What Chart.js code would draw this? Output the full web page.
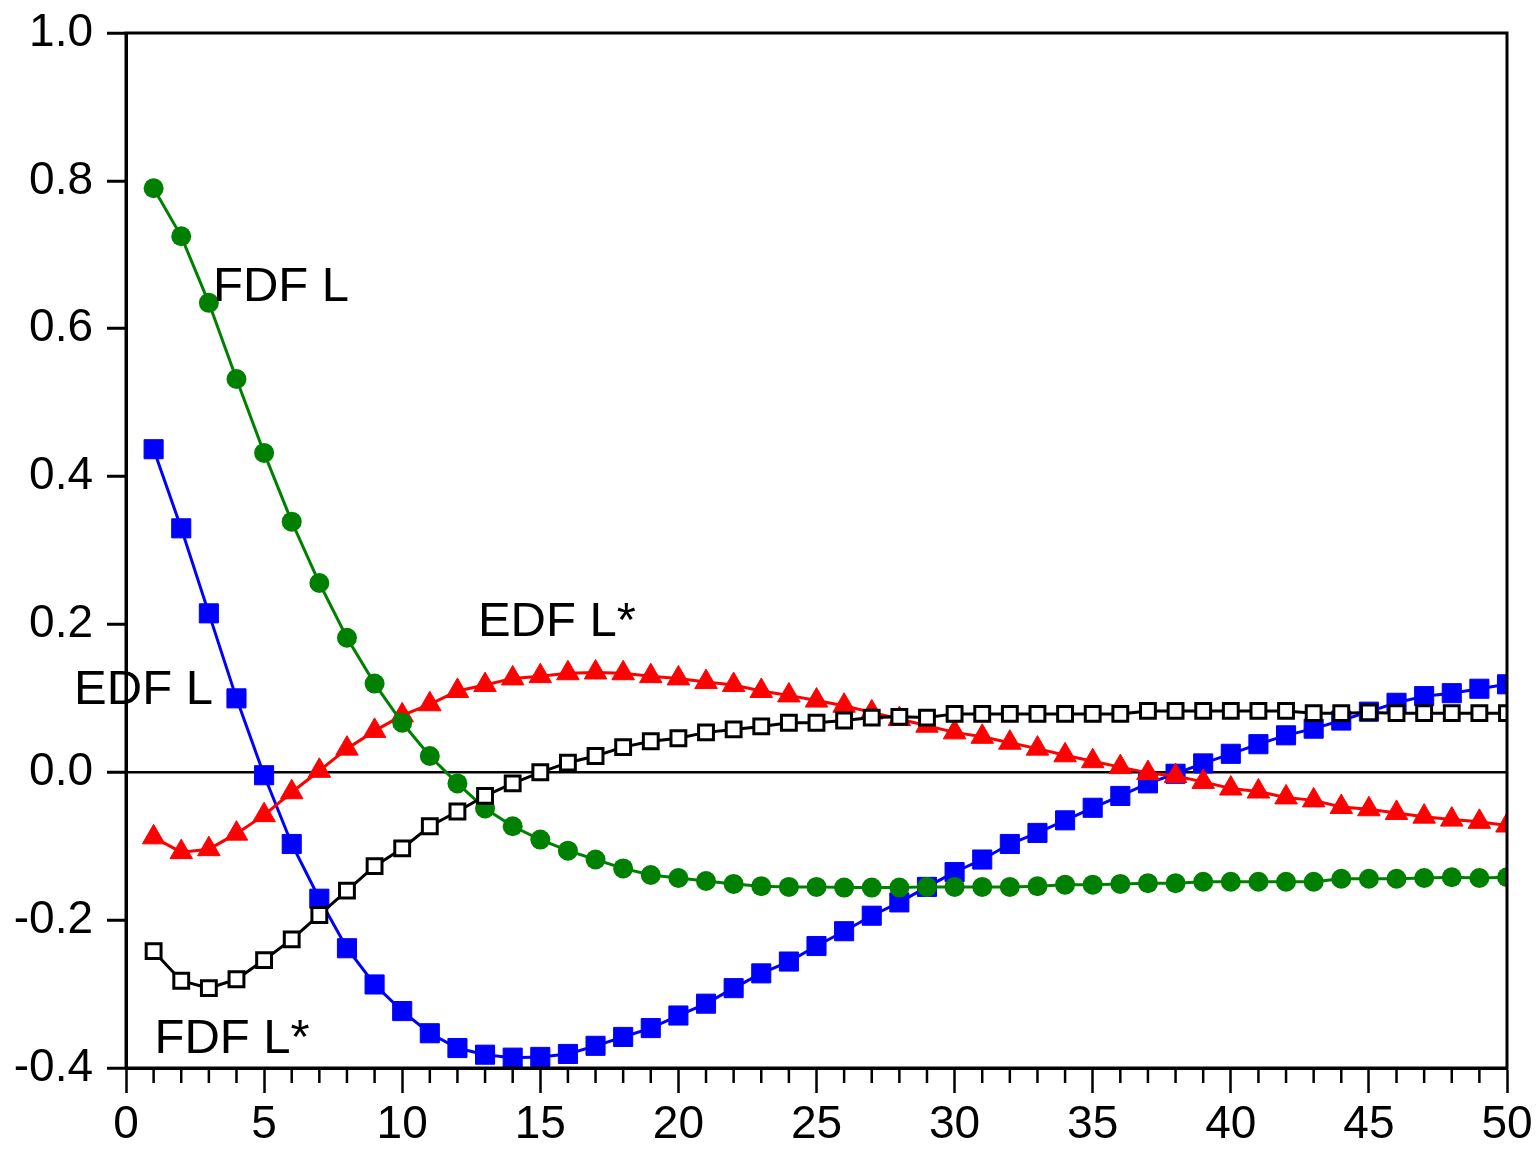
<!DOCTYPE html>
<html>
<head>
<meta charset="utf-8">
<script src="https://cdn.jsdelivr.net/npm/chart.js"></script>
<style>
  html, body { margin: 0; padding: 0; background: #fff; }
  canvas { display: block; }
</style>
</head>
<body>
<canvas id="chart" width="1538" height="1149"></canvas>
<script>
// lag index on the x axis
const lags = [1, 2, 3, 4, 5, 6, 7, 8, 9, 10, 11, 12, 13, 14, 15, 16, 17, 18, 19, 20,
              21, 22, 23, 24, 25, 26, 27, 28, 29, 30, 31, 32, 33, 34, 35, 36, 37, 38, 39, 40,
              41, 42, 43, 44, 45, 46, 47, 48, 49, 50];

// series values
const fdfL = [0.790, 0.725, 0.635, 0.532, 0.432, 0.339, 0.256, 0.182, 0.120, 0.067,
              0.022, -0.015, -0.049, -0.073, -0.091, -0.106, -0.118, -0.130, -0.139, -0.143,
              -0.147, -0.151, -0.154, -0.155, -0.155, -0.156, -0.156, -0.156, -0.155, -0.155,
              -0.155, -0.155, -0.154, -0.152, -0.152, -0.151, -0.150, -0.150, -0.148, -0.148,
              -0.148, -0.148, -0.148, -0.144, -0.144, -0.144, -0.143, -0.142, -0.143, -0.142];
const edfL = [0.437, 0.330, 0.215, 0.100, -0.004, -0.097, -0.171, -0.238, -0.287, -0.323,
              -0.353, -0.373, -0.382, -0.386, -0.385, -0.381, -0.370, -0.358, -0.346, -0.329,
              -0.313, -0.292, -0.272, -0.256, -0.235, -0.215, -0.194, -0.176, -0.155, -0.135,
              -0.118, -0.097, -0.082, -0.065, -0.048, -0.032, -0.015, -0.002, 0.012, 0.025,
              0.038, 0.050, 0.059, 0.070, 0.082, 0.094, 0.103, 0.107, 0.113, 0.119];
const edfLStar = [-0.088, -0.108, -0.104, -0.083, -0.058, -0.027, 0.002, 0.032, 0.056, 0.077,
                  0.092, 0.110, 0.118, 0.127, 0.130, 0.134, 0.135, 0.134, 0.130, 0.127,
                  0.122, 0.118, 0.110, 0.104, 0.097, 0.090, 0.081, 0.072, 0.063, 0.054,
                  0.048, 0.040, 0.032, 0.023, 0.015, 0.007, -0.001, -0.005, -0.013, -0.022,
                  -0.026, -0.034, -0.038, -0.047, -0.050, -0.055, -0.060, -0.064, -0.067, -0.072];
const fdfLStar = [-0.242, -0.282, -0.292, -0.280, -0.254, -0.226, -0.193, -0.160, -0.127, -0.103,
                  -0.073, -0.053, -0.032, -0.015, 0.000, 0.013, 0.022, 0.034, 0.042, 0.046,
                  0.054, 0.058, 0.062, 0.067, 0.067, 0.070, 0.074, 0.075, 0.074, 0.079,
                  0.079, 0.079, 0.079, 0.079, 0.079, 0.079, 0.083, 0.083, 0.083, 0.083,
                  0.083, 0.083, 0.080, 0.080, 0.081, 0.080, 0.080, 0.080, 0.080, 0.080];

// text labels inside the plot, anchored in data coordinates
const labelText = ['FDF L', 'EDF L*', 'EDF L', 'FDF L*'];
const labelX = [3.15, 12.74, -1.88, 1.03];
const labelY = [0.6375, 0.185, 0.092, -0.380];

const fontFamily = '"Liberation Sans", Arial, sans-serif';
Chart.defaults.font.family = fontFamily;

const toPoints = vals => lags.map((x, i) => ({ x: x, y: vals[i] }));

// top/right frame, minor x ticks and the series labels
const extras = {
    id: 'extras',
    afterDraw(chart) {
        const ctx = chart.ctx;
        const a = chart.chartArea;
        const xs = chart.scales.x;
        const ys = chart.scales.y;
        ctx.save();
        ctx.strokeStyle = '#000';
        ctx.lineWidth = 3;
        ctx.strokeRect(a.left, a.top, a.right - a.left, a.bottom - a.top);

        ctx.lineWidth = 2.5;
        lags.filter(v => v % 5 !== 0).forEach(v => {
            const px = xs.getPixelForValue(v);
            ctx.beginPath();
            ctx.moveTo(px, a.bottom);
            ctx.lineTo(px, a.bottom + 15);
            ctx.stroke();
        });

        ctx.fillStyle = '#000';
        ctx.font = '49px ' + fontFamily;
        ctx.textAlign = 'left';
        ctx.textBaseline = 'alphabetic';
        labelText.forEach((t, i) => {
            ctx.fillText(t, xs.getPixelForValue(labelX[i]), ys.getPixelForValue(labelY[i]));
        });
        ctx.restore();
    }
};

new Chart(document.getElementById('chart').getContext('2d'), {
    type: 'line',
    data: {
        datasets: [
            {
                label: 'FDF L*',
                data: toPoints(fdfLStar),
                borderColor: '#000000',
                borderWidth: 3,
                pointStyle: 'rect',
                pointRadius: 10.5,
                pointBorderWidth: 3,
                pointBorderColor: '#000000',
                pointBackgroundColor: '#ffffff',
                order: 0
            },
            {
                label: 'FDF L',
                data: toPoints(fdfL),
                borderColor: '#008000',
                borderWidth: 3,
                pointStyle: 'circle',
                pointRadius: 10,
                pointBorderWidth: 0,
                pointBackgroundColor: '#008000',
                order: 1
            },
            {
                label: 'EDF L*',
                data: toPoints(edfLStar),
                borderColor: '#ff0000',
                borderWidth: 3,
                pointStyle: 'triangle',
                pointRadius: 13,
                pointBorderWidth: 1,
                pointBorderColor: '#ff0000',
                pointBackgroundColor: '#ff0000',
                order: 2
            },
            {
                label: 'EDF L',
                data: toPoints(edfL),
                borderColor: '#0000ff',
                borderWidth: 3,
                pointStyle: 'rect',
                pointRadius: 13.5,
                pointBorderWidth: 1,
                pointBorderColor: '#0000ff',
                pointBackgroundColor: '#0000ff',
                order: 3
            }
        ]
    },
    options: {
        responsive: false,
        animation: false,
        layout: { padding: { top: 33, right: 31, left: 0, bottom: 0 } },
        plugins: {
            legend: { display: false },
            tooltip: { enabled: false }
        },
        elements: { line: { tension: 0 } },
        scales: {
            x: {
                type: 'linear',
                min: 0,
                max: 50,
                ticks: {
                    stepSize: 5,
                    autoSkip: false,
                    maxRotation: 0,
                    color: '#000',
                    padding: 5,
                    font: { size: 46 }
                },
                grid: {
                    drawOnChartArea: false,
                    tickLength: 25,
                    tickWidth: 2.5,
                    tickColor: '#000'
                },
                border: { display: true, color: '#000', width: 3 },
                afterFit(s) {
                    s.height = 81;
                    s.paddingLeft = 0;
                    s.paddingRight = 0;
                }
            },
            y: {
                min: -0.4,
                max: 1.0,
                ticks: {
                    stepSize: 0.2,
                    color: '#000',
                    padding: 14,
                    font: { size: 46 },
                    callback: v => (Math.abs(v) < 1e-9 ? 0 : v).toFixed(1)
                },
                grid: {
                    drawOnChartArea: true,
                    color: c => (c.tick && Math.abs(c.tick.value) < 1e-9) ? '#000' : 'rgba(0,0,0,0)',
                    lineWidth: 2.5,
                    tickLength: 19,
                    tickWidth: 3,
                    tickColor: '#000'
                },
                border: { display: true, color: '#000', width: 3 },
                afterFit(s) {
                    s.width = 126;
                    s.paddingTop = 0;
                    s.paddingBottom = 0;
                }
            }
        }
    },
    plugins: [extras]
});
</script>
</body>
</html>
